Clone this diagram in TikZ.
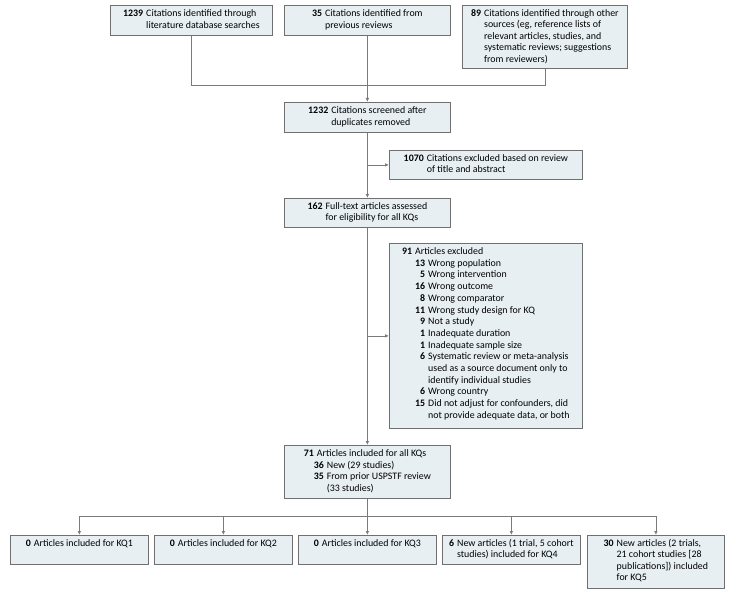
\documentclass[tikz,border=0pt]{standalone}
\usepackage{fontspec}
\setmainfont{Carlito}
\usetikzlibrary{arrows.meta}
\definecolor{boxfill}{HTML}{E8EFF3}
\definecolor{boxline}{HTML}{707070}
\definecolor{conn}{HTML}{7A7A7A}
\newcommand\nt[2]{\begin{tabular}[t]{@{}r@{\hspace{3pt}}l@{}}\textbf{#1} & #2\end{tabular}}
\newcommand\bxc[3]{\parbox[c][#2][c]{#1}{\centering #3\par}}
\newcommand\bxt[3]{\parbox[c][#2][t]{#1}{\vspace*{3pt}\centering #3\par}}
\begin{document}
\begin{tikzpicture}[x=1pt,y=-1pt,
  font=\fontsize{9.9}{11.5}\selectfont,
  box/.style={draw=boxline, fill=boxfill, line width=0.8pt, inner sep=0pt, anchor=north west},
  link/.style={draw=conn, line width=0.8pt},
  arr/.style={link, -{Latex[length=4pt,width=3.6pt]}}]
\useasboundingbox (0,0) rectangle (737,594);
% top row
\node[box] (A) at (110,5) {\bxc{162pt}{30pt}{\nt{1239}{Citations identified through\\ & literature database searches}}};
\node[box] (B) at (284,5) {\bxc{166pt}{30pt}{\nt{35}{Citations identified from\\ & previous reviews}}};
\node[box] (C) at (462,5) {\bxc{165pt}{63pt}{\nt{89}{Citations identified through other\\ & sources (eg, reference lists of\\ & relevant articles, studies, and\\ & systematic reviews; suggestions\\ & from reviewers)}}};
% main column
\node[box] (D) at (284,102) {\bxc{166pt}{30pt}{\nt{1232}{Citations screened after\\ & duplicates removed}}};
\node[box] (E) at (389,150) {\bxc{193pt}{29pt}{\nt{1070}{Citations excluded based on review\\ & of title and abstract}}};
\node[box] (F) at (284,198) {\bxc{166pt}{29pt}{\nt{162}{Full-text articles assessed\\ & for eligibility for all KQs}}};
\node[box] (G) at (389,243) {\bxt{193pt}{185pt}{\fontsize{9.9}{11.7}\selectfont\begin{tabular}[t]{@{\hspace{13pt}}r@{\hspace{3pt}}l@{}}
\multicolumn{2}{@{}l@{}}{\textbf{91}\hspace{3pt}Articles excluded}\\
\textbf{13} & Wrong population\\
\textbf{5} & Wrong intervention\\
\textbf{16} & Wrong outcome\\
\textbf{8} & Wrong comparator\\
\textbf{11} & Wrong study design for KQ\\
\textbf{9} & Not a study\\
\textbf{1} & Inadequate duration\\
\textbf{1} & Inadequate sample size\\
\textbf{6} & Systematic review or meta-analysis\\
 & used as a source document only to\\
 & identify individual studies\\
\textbf{6} & Wrong country\\
\textbf{15} & Did not adjust for confounders, did\\
 & not provide adequate data, or both
\end{tabular}}};
\node[box] (H) at (284,445) {\bxc{166pt}{53pt}{\begin{tabular}[t]{@{\hspace{10pt}}r@{\hspace{3pt}}l@{}}
\multicolumn{2}{@{}l@{}}{\textbf{71}\hspace{3pt}Articles included for all KQs}\\
\textbf{36} & New (29 studies)\\
\textbf{35} & From prior USPSTF review\\
 & (33 studies)
\end{tabular}}};
% bottom row
\node[box] (K1) at (10,535) {\bxt{138pt}{29pt}{\nt{0}{Articles included for KQ1}}};
\node[box] (K2) at (154,535) {\bxt{138pt}{29pt}{\nt{0}{Articles included for KQ2}}};
\node[box] (K3) at (298,535) {\bxt{138pt}{29pt}{\nt{0}{Articles included for KQ3}}};
\node[box] (K4) at (442,535) {\bxt{138pt}{29pt}{\nt{6}{New articles (1 trial, 5 cohort\\ & studies) included for KQ4}}};
\node[box] (K5) at (587,535) {\bxt{137pt}{53pt}{\nt{30}{New articles (2 trials,\\ & 21 cohort studies [28\\ & publications]) included\\ & for KQ5}}};
% connectors
\coordinate (j1) at (367,85);
\coordinate (j2) at (367,516);
\draw[link] (A.south) |- (j1);
\draw[link] (C.south) |- (j1);
\draw[arr] (B.south) -- (D.north);
\draw[arr] (D.south) -- (F.north);
\draw[arr] (D.south |- E.west) -- (E.west);
\draw[arr] (F.south) -- (H.north);
\draw[arr] (F.south |- G.west) -- (G.west);
\draw[arr] (H.south) -- (K3.north);
\draw[link] (K1.north |- j2) -- (K5.north |- j2);
\draw[arr] (K1.north |- j2) -- (K1.north);
\draw[arr] (K2.north |- j2) -- (K2.north);
\draw[arr] (K4.north |- j2) -- (K4.north);
\draw[arr] (K5.north |- j2) -- (K5.north);
\end{tikzpicture}
\end{document}
